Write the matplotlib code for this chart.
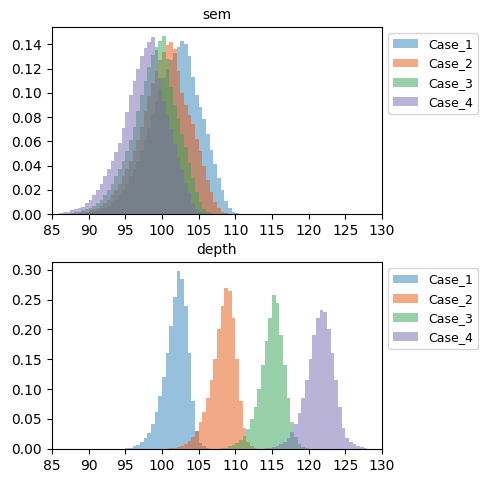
import matplotlib
matplotlib.use("Agg")
import matplotlib.pyplot as plt
import numpy as np

labels = ["Case_1", "Case_2", "Case_3", "Case_4"]
colors = ["#3182bd", "#e6550d", "#31a354", "#756bb1"]
bin_width = 0.5

# sem histograms (density per 0.5-wide bin)
sem_start = [89.5, 88.5, 87.5, 86.0]
sem_case1 = [0.001, 0.0015, 0.002, 0.003, 0.004, 0.005, 0.007, 0.009, 0.012, 0.016,
             0.02, 0.025, 0.031, 0.037, 0.044, 0.052, 0.061, 0.071, 0.082, 0.093,
             0.103, 0.112, 0.12, 0.127, 0.133, 0.138, 0.143, 0.14, 0.13, 0.113,
             0.098, 0.088, 0.078, 0.066, 0.053, 0.041, 0.03, 0.02, 0.011, 0.005,
             0.002, 0.001]
sem_case2 = [0.001, 0.0015, 0.002, 0.003, 0.004, 0.005, 0.007, 0.009, 0.012, 0.016,
             0.02, 0.025, 0.031, 0.037, 0.044, 0.052, 0.061, 0.072, 0.085, 0.097,
             0.108, 0.118, 0.127, 0.134, 0.139, 0.142, 0.136, 0.118, 0.1, 0.09,
             0.082, 0.074, 0.062, 0.052, 0.04, 0.028, 0.018, 0.01, 0.005, 0.002,
             0.0005]
sem_case3 = [0.001, 0.0015, 0.002, 0.003, 0.004, 0.005, 0.007, 0.009, 0.012, 0.016,
             0.02, 0.025, 0.031, 0.037, 0.044, 0.052, 0.061, 0.072, 0.085, 0.098,
             0.11, 0.121, 0.131, 0.138, 0.143, 0.147, 0.128, 0.105, 0.09, 0.078,
             0.066, 0.055, 0.042, 0.03, 0.018, 0.01, 0.004, 0.0015, 0.0005]
sem_case4 = [0.001, 0.0015, 0.002, 0.003, 0.004, 0.005, 0.006, 0.009, 0.012, 0.016,
             0.02, 0.025, 0.031, 0.037, 0.044, 0.051, 0.059, 0.071, 0.084, 0.098,
             0.11, 0.12, 0.13, 0.137, 0.142, 0.146, 0.135, 0.112, 0.093, 0.082,
             0.07, 0.058, 0.047, 0.036, 0.026, 0.017, 0.009, 0.004, 0.0015, 0.0005]

# depth histograms
depth_start = [95.0, 101.0, 108.0, 114.0]
depth_case1 = [0.001, 0.002, 0.004, 0.007, 0.011, 0.018, 0.027, 0.042, 0.062, 0.088,
               0.12, 0.16, 0.205, 0.255, 0.298, 0.285, 0.24, 0.16, 0.08, 0.03,
               0.01, 0.004, 0.001]
depth_case2 = [0.001, 0.002, 0.003, 0.005, 0.008, 0.013, 0.02, 0.03, 0.045, 0.062,
               0.085, 0.115, 0.15, 0.2, 0.24, 0.27, 0.265, 0.22, 0.15, 0.08,
               0.035, 0.012, 0.004, 0.001]
depth_case3 = [0.001, 0.002, 0.004, 0.006, 0.01, 0.015, 0.022, 0.033, 0.05, 0.07,
               0.1, 0.14, 0.18, 0.22, 0.258, 0.245, 0.19, 0.14, 0.085, 0.045,
               0.02, 0.008, 0.003, 0.001]
depth_case4 = [0.001, 0.002, 0.003, 0.005, 0.008, 0.012, 0.018, 0.028, 0.042, 0.06,
               0.085, 0.115, 0.15, 0.19, 0.22, 0.233, 0.23, 0.2, 0.16, 0.115,
               0.07, 0.035, 0.018, 0.012, 0.008, 0.005, 0.003, 0.001]

panels = [
    ("sem", sem_start, [sem_case1, sem_case2, sem_case3, sem_case4]),
    ("depth", depth_start, [depth_case1, depth_case2, depth_case3, depth_case4]),
]

fig = plt.figure(figsize=(4.8, 4.8), dpi=100)
ax_top = fig.add_axes([0.108, 0.554, 0.688, 0.390])
ax_bot = fig.add_axes([0.108, 0.065, 0.688, 0.389])

for ax, (title, starts, series) in zip([ax_top, ax_bot], panels):
    for start, heights, label, color in zip(starts, series, labels, colors):
        edges = start + bin_width * np.arange(len(heights) + 1)
        centers = edges[:-1] + bin_width / 2
        ax.hist(centers, bins=edges, weights=heights, histtype="stepfilled",
                alpha=0.5, color=color, label=label)
    ax.set_title(title, fontsize=10)
    ax.set_xlim(85, 130)
    ax.set_xticks(np.arange(85, 131, 5))
    ax.legend(loc="upper left", bbox_to_anchor=(1.0, 1.0), fontsize=9)

ax_top.set_yticks(np.arange(0, 0.141, 0.02))
ax_bot.set_yticks(np.arange(0, 0.301, 0.05))

fig.savefig("out.png", dpi=100)
